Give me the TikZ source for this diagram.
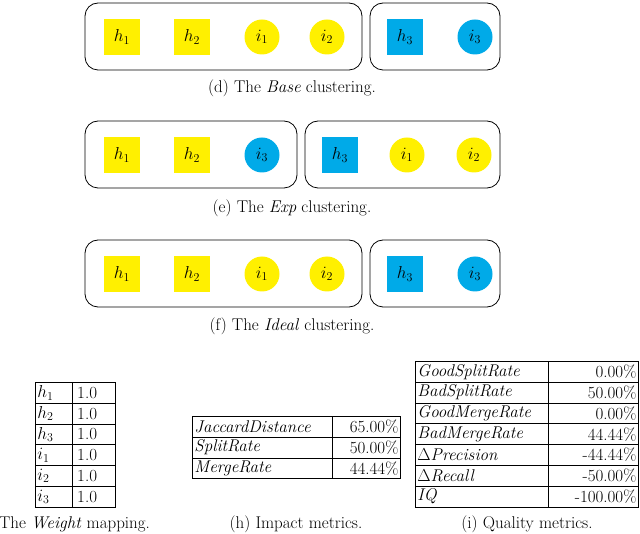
\documentclass[tikz,border=0pt]{standalone}
\usetikzlibrary{positioning}
\definecolor{ylw}{RGB}{255,240,0}
\definecolor{blu}{RGB}{0,170,232}
\begin{document}
\begin{tikzpicture}[x=1pt,y=-1pt,
 every node/.style={font=\fontsize{17}{20}\selectfont},
 grp/.style={draw,rounded corners=13pt,line width=0.8pt},
 sq/.style={fill=ylw,minimum size=36pt,inner sep=0pt},
 ci/.style={circle,fill=ylw,minimum size=35pt,inner sep=0pt},
 bsq/.style={sq,fill=blu},
 bci/.style={ci,fill=blu},
 captxt/.style={},
 cell/.style={draw,line width=0.8pt,minimum height=20.8pt,inner sep=2pt,anchor=north west},
 lc/.style={cell,align=left,text width=#1-4pt},
 rc/.style={cell,align=right,text width=#1-4pt}]
\useasboundingbox (0,0) rectangle (640,534);
\clip (0,0) rectangle (640,534);
% (d)
\draw[grp] (85,3) rectangle (362,70);
\draw[grp] (370,3) rectangle (500,70);
\node[sq] (dh1) at (122,37) {$h_1$};
\node[sq] (dh2) at (192,37) {$h_2$};
\node[ci] (di1) at (262,37) {$i_1$};
\node[ci] (di2) at (327,37) {$i_2$};
\node[bsq] (dh3) at (405,37) {$h_3$};
\node[bci] (di3) at (475,37) {$i_3$};
\node[captxt] (dc) at (292,88) {(d) The \textit{Base} clustering.};
% (e)
\draw[grp] (85,121) rectangle (297,188);
\draw[grp] (305,121) rectangle (500,188);
\node[sq] (eh1) at (122,155) {$h_1$};
\node[sq] (eh2) at (192,155) {$h_2$};
\node[bci] (ei3) at (262,155) {$i_3$};
\node[bsq] (eh3) at (340,155) {$h_3$};
\node[ci] (ei1) at (407,155) {$i_1$};
\node[ci] (ei2) at (474,155) {$i_2$};
\node[captxt] (ec) at (292,208) {(e) The \textit{Exp} clustering.};
% (f)
\draw[grp] (85,240) rectangle (362,307);
\draw[grp] (370,240) rectangle (500,307);
\node[sq] (fh1) at (122,274) {$h_1$};
\node[sq] (fh2) at (192,274) {$h_2$};
\node[ci] (fi1) at (262,274) {$i_1$};
\node[ci] (fi2) at (327,274) {$i_2$};
\node[bsq] (fh3) at (405,274) {$h_3$};
\node[bci] (fi3) at (475,274) {$i_3$};
\node[captxt] (fc) at (292,326) {(f) The \textit{Ideal} clustering.};
% (g) weight table
\foreach \a/\v [count=\k from 0] in {h_1/1.0,h_2/1.0,h_3/1.0,i_1/1.0,i_2/1.0,i_3/1.0}{
 \node[lc=37pt] (w\k a) at (35,382+20.8*\k) {$\a$};
 \node[lc=43pt] (w\k b) at (72,382+20.8*\k) {\,\v};
}
\node[captxt] (gc) at (62,524) {(g) The \textit{Weight} mapping.};
% (h) impact
\foreach \a/\v [count=\k from 0] in {JaccardDistance/65.00\%,SplitRate/50.00\%,MergeRate/44.44\%}{
 \node[lc=140pt] (m\k a) at (192,416+20.8*\k) {\textit{\a}};
 \node[rc=68pt] (m\k b) at (332,416+20.8*\k) {\v};
}
\node[captxt] (hc) at (296,524) {(h) Impact metrics.};
% (i) quality
\foreach \a/\v [count=\k from 0] in {\textit{GoodSplitRate}/0.00\%,\textit{BadSplitRate}/50.00\%,\textit{GoodMergeRate}/0.00\%,\textit{BadMergeRate}/44.44\%,$\Delta$\textit{Precision}/-44.44\%,$\Delta$\textit{Recall}/-50.00\%,\textit{IQ}/-100.00\%}{
 \node[lc=133pt] (q\k a) at (415,361+20.8*\k) {\a};
 \node[rc=90pt] (q\k b) at (548,361+20.8*\k) {\v};
}
\node[captxt] (ic) at (527,524) {(i) Quality metrics.};
\end{tikzpicture}
\end{document}
